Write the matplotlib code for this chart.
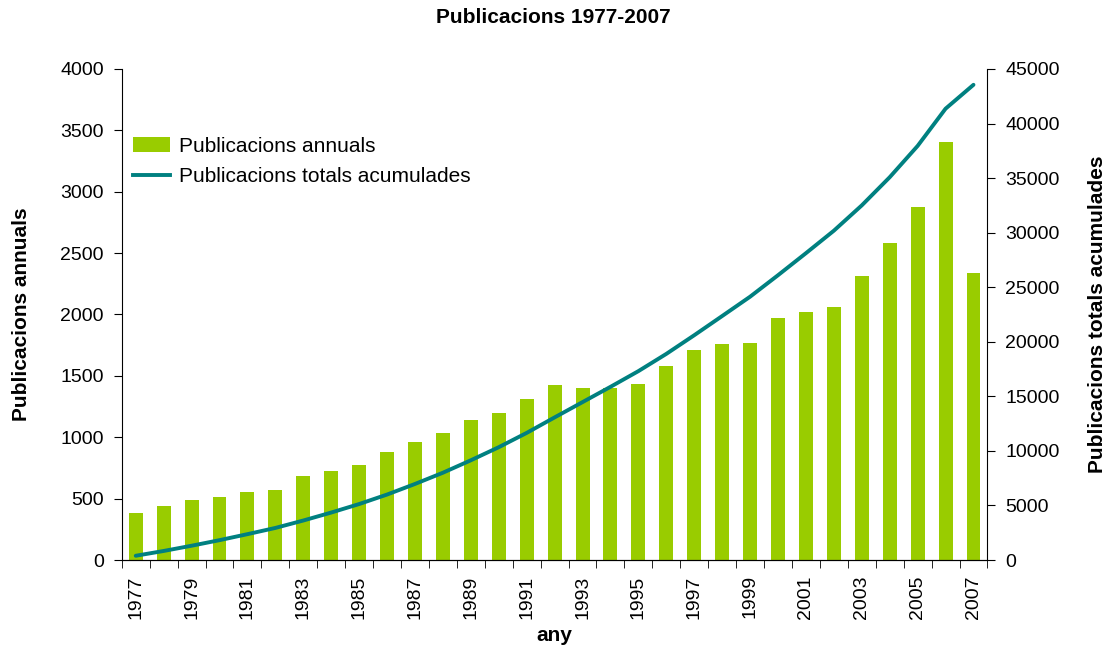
import numpy as np
import matplotlib.pyplot as plt
from matplotlib.patches import Patch
from matplotlib.lines import Line2D

plt.rcParams['font.family'] = ['Liberation Sans', 'DejaVu Sans']

# dades llegides del grafic
anys = list(range(1977, 2008))
anuals = [383, 440, 486, 511, 554, 568, 682, 728, 774, 877,
          964, 1035, 1138, 1195, 1312, 1423, 1401, 1401, 1434, 1583,
          1711, 1757, 1768, 1974, 2018, 2064, 2316, 2580, 2876, 3403, 2338]
acumulades = [390, 830, 1310, 1820, 2370, 2940, 3620, 4350, 5130, 6000,
              6970, 8000, 9140, 10340, 11650, 13070, 14470, 15870, 17310, 18890,
              20600, 22360, 24130, 26100, 28120, 30180, 32500, 35080, 37950, 41360, 43550]

verd = '#99cc00'
blau = '#008080'

fig = plt.figure(figsize=(11.07, 6.55), dpi=100)
ax = fig.add_axes([0.110, 0.145, 0.782, 0.7497])
x = np.arange(len(anys))

ax.bar(x, anuals, width=0.5, color=verd, zorder=2)
ax.set_xlim(-0.5, len(anys) - 0.5)
ax.set_ylim(0, 4000)
ax.set_yticks(np.arange(0, 4001, 500))
ax.set_xticks(x[::2])
ax.set_xticklabels(anys[::2], rotation=90)
ax.set_xticks(np.arange(-0.5, len(anys)), minor=True)
ax.tick_params(axis='x', which='major', length=0, pad=11, labelsize=14)
ax.tick_params(axis='x', which='minor', length=6, direction='out')
ax.tick_params(axis='y', length=6, direction='out', labelsize=14, pad=7)
ax.spines['top'].set_visible(False)
ax.spines['right'].set_visible(False)
ax.set_ylabel('Publicacions annuals', fontsize=15, fontweight='bold', labelpad=21)
ax.set_xlabel('any', fontsize=15, fontweight='bold', labelpad=5)

ax2 = ax.twinx()
ax2.plot(x, acumulades, color=blau, lw=2.8, solid_capstyle='round', zorder=3)
ax2.set_ylim(0, 45000)
ax2.set_yticks(np.arange(0, 45001, 5000))
ax2.tick_params(axis='y', length=6, direction='out', labelsize=14, pad=7)
ax2.spines['top'].set_visible(False)
ax2.spines['left'].set_visible(False)
ax2.set_ylabel('Publicacions totals acumulades', fontsize=15, fontweight='bold',
               rotation=90, labelpad=20)

handles = [Patch(facecolor=verd, edgecolor='none'),
           Line2D([], [], color=blau, lw=2.8)]
ax.legend(handles, ['Publicacions annuals', 'Publicacions totals acumulades'],
          loc='upper left', bbox_to_anchor=(-0.009, 0.90), frameon=False,
          fontsize=15, handlelength=1.8, handleheight=0.75, handletextpad=0.4,
          labelspacing=0.55)

fig.suptitle('Publicacions 1977-2007', fontsize=15, fontweight='bold', y=0.988)

fig.savefig('out.png', dpi=100)
